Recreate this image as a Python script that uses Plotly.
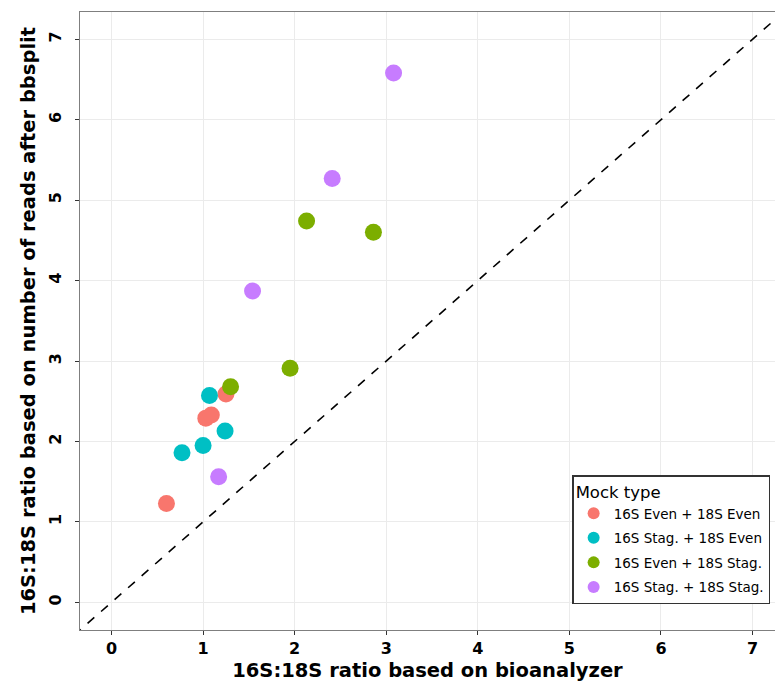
import plotly.graph_objects as go

groups = ["16S Even + 18S Even", "16S Stag. + 18S Even", "16S Even + 18S Stag.", "16S Stag. + 18S Stag."]
colors = ["#F8766D", "#00BFC4", "#7CAE00", "#C77CFF"]

bio_even_even = [0.60, 1.03, 1.09, 1.25]
reads_even_even = [1.23, 2.29, 2.33, 2.59]
bio_stag_even = [1.07, 1.24, 1.00, 0.77]
reads_stag_even = [2.57, 2.13, 1.95, 1.86]
bio_even_stag = [1.30, 2.13, 2.86, 1.95]
reads_even_stag = [2.68, 4.74, 4.60, 2.91]
bio_stag_stag = [3.08, 2.41, 1.54, 1.17]
reads_stag_stag = [6.58, 5.27, 3.87, 1.56]

xs = [bio_even_even, bio_stag_even, bio_even_stag, bio_stag_stag]
ys = [reads_even_even, reads_stag_even, reads_even_stag, reads_stag_stag]

x_range = [-0.344, 7.245]
y_range = [-0.344, 7.339]
ticks = [0, 1, 2, 3, 4, 5, 6, 7]
FONT = "DejaVu Sans"

fig = go.Figure()
fig.add_trace(go.Scatter(x=[-1, 8], y=[-1, 8], mode="lines",
                         line=dict(color="black", dash="dash", width=1.6),
                         showlegend=False, hoverinfo="skip"))
for g, c, x, y in zip(groups, colors, xs, ys):
    fig.add_trace(go.Scatter(x=x, y=y, mode="markers", name=g, legendgroup=g,
                             marker=dict(color=c, size=17, line=dict(width=0))))

axis_common = dict(
    showgrid=True, gridcolor="#EBEBEB", gridwidth=1.2,
    zeroline=False, showline=True, linecolor="#7F7F7F", linewidth=1.2, mirror=True,
    ticks="outside", ticklen=4, tickcolor="#333333", tickwidth=1.2,
    tickvals=ticks,
    tickfont=dict(family=FONT, size=16, color="black", weight="bold"),
)

fig.update_layout(
    width=775, height=686,
    margin=dict(l=80, r=0, t=12, b=56),
    plot_bgcolor="white", paper_bgcolor="white",
    xaxis=dict(range=x_range, **axis_common,
               title=dict(text="<b>16S:18S ratio based on bioanalyzer</b>",
                          font=dict(family=FONT, size=19.5, color="black"), standoff=6)),
    yaxis=dict(range=y_range, tickangle=-90, ticklabelstandoff=8, **axis_common,
               title=dict(text="<b>16S:18S ratio based on number of reads after bbsplit</b>",
                          font=dict(family=FONT, size=19.5, color="black"), standoff=4)),
    legend=dict(
        x=0.993, y=0.042, xanchor="right", yanchor="bottom",
        bgcolor="white", bordercolor="#333333", borderwidth=1.5,
        title=dict(text="Mock type", font=dict(family=FONT, size=16.5, color="black")),
        font=dict(family=FONT, size=13.5, color="black"),
        itemsizing="constant", tracegroupgap=4,
    ),
)

fig.write_html("out.html")
